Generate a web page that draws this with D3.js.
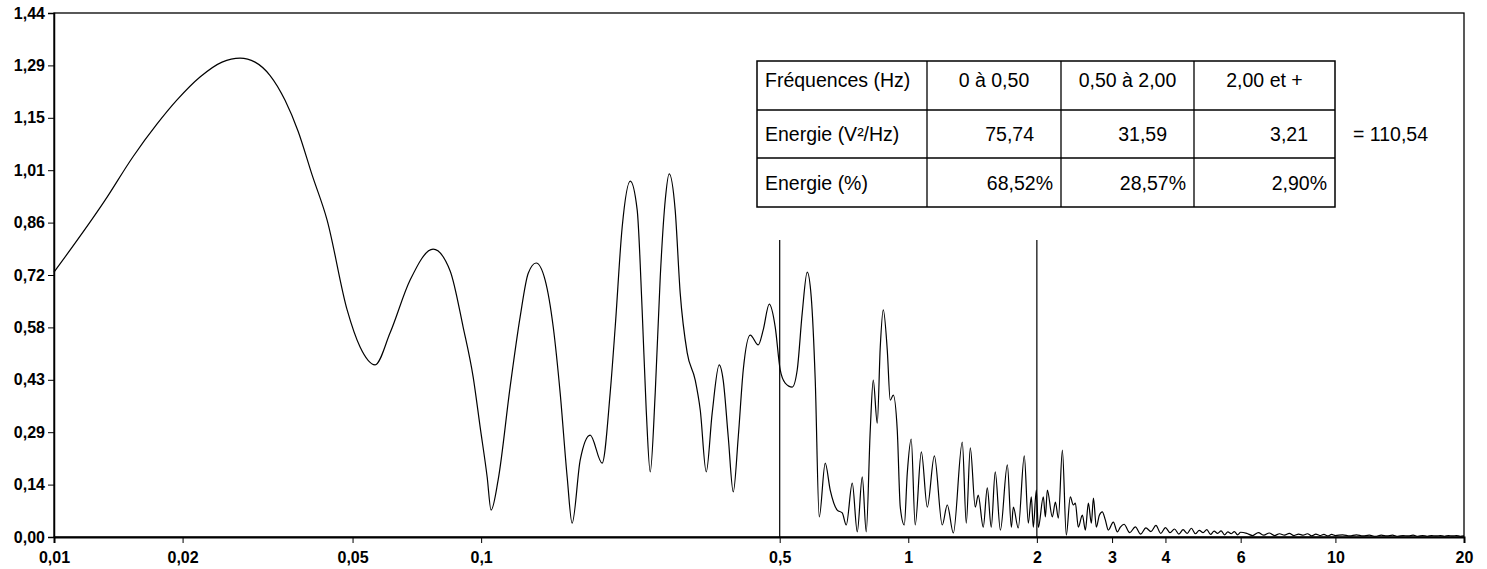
<!DOCTYPE html>
<html>
<head>
<meta charset="utf-8">
<script src="https://cdn.jsdelivr.net/npm/d3@7"></script>
<style>
  html, body { margin: 0; padding: 0; background: #fff; }
  svg { display: block; }
  text { font-family: "Liberation Sans", Arial, sans-serif; fill: #000; }
</style>
</head>
<body>
<svg id="chart" width="1487" height="569"></svg>
<script>
// ---------- data ----------
const freqHz = [
  0.0100, 0.01316, 0.01531, 0.01743, 0.01941, 0.02197, 0.02474, 0.02727, 0.02956, 0.03206,
  0.03475, 0.03728, 0.0402, 0.04359, 0.04856, 0.05207, 0.05646, 0.06122, 0.06819, 0.0772,
  0.08462, 0.09075, 0.09578, 0.09947, 0.1033, 0.1055, 0.1096, 0.1169, 0.1234, 0.1289,
  0.1345, 0.1412, 0.1475, 0.1531, 0.159, 0.1633, 0.1706, 0.180, 0.192, 0.2005,
  0.206, 0.2139, 0.2234, 0.2319, 0.2382, 0.2435, 0.2488, 0.2556, 0.2626, 0.2698,
  0.2756, 0.2846, 0.2924, 0.3037, 0.3171, 0.3258, 0.3365, 0.3475, 0.3609, 0.3687,
  0.3789, 0.3893, 0.3999, 0.4108, 0.4266, 0.4454, 0.4575, 0.4726, 0.4881, 0.5014,
  0.5151, 0.5349, 0.5495, 0.5646, 0.580, 0.5926, 0.6056, 0.6188, 0.6391, 0.6565,
  0.6818, 0.7005, 0.7158, 0.7394, 0.7596, 0.7803, 0.7972, 0.8147, 0.8279, 0.846,
  0.8598, 0.8739, 0.8929, 0.9074, 0.9223, 0.9423, 0.9578, 0.9787, 0.9947, 1.016,
  1.038, 1.073, 1.108, 1.151, 1.201, 1.234, 1.275, 1.338, 1.367, 1.397,
  1.435, 1.458, 1.498, 1.531, 1.564, 1.598, 1.643, 1.706, 1.743, 1.762,
  1.809, 1.869, 1.910, 1.941, 1.962, 1.994, 2.016, 2.071, 2.094, 2.116,
  2.174, 2.210, 2.246, 2.295, 2.344, 2.395, 2.434, 2.461, 2.501, 2.556,
  2.598, 2.640, 2.683, 2.713, 2.756, 2.801, 2.846, 2.893, 2.940, 3.020,
  3.087, 3.137,
  3.2, 3.3, 3.4, 3.5, 3.6, 3.7, 3.8, 3.9, 4.0, 4.1, 4.2, 4.3, 4.4, 4.5, 4.6, 4.7, 4.8, 4.9,
  5.0, 5.1, 5.2, 5.3, 5.4, 5.5, 5.6, 5.7, 5.8, 5.9, 6.0,
  6.2, 6.4, 6.6, 6.8, 7.0, 7.2, 7.4, 7.6, 7.8, 8.0, 8.2, 8.4, 8.6, 8.8, 9.0, 9.2, 9.4, 9.6, 9.8, 10.0,
  10.4, 10.8, 11.2, 11.6, 12.0, 12.4, 12.8, 13.2, 13.6, 14.0, 14.4, 14.8, 15.2, 15.6, 16.0,
  16.4, 16.8, 17.2, 17.6, 18.0, 18.4, 18.8, 19.2, 19.6, 20.0
];
const energyDensity = [
  0.728, 0.925, 1.045, 1.135, 1.201, 1.264, 1.305, 1.316, 1.305, 1.268,
  1.200, 1.115, 0.995, 0.871, 0.624, 0.522, 0.473, 0.561, 0.706, 0.791,
  0.731, 0.577, 0.440, 0.302, 0.165, 0.074, 0.157, 0.412, 0.605, 0.725,
  0.753, 0.706, 0.577, 0.396, 0.165, 0.038, 0.212, 0.280, 0.203, 0.396,
  0.577, 0.852, 0.978, 0.899, 0.624, 0.349, 0.179, 0.396, 0.714, 0.926,
  0.998, 0.899, 0.671, 0.506, 0.431, 0.349, 0.179, 0.341, 0.473, 0.431,
  0.275, 0.124, 0.275, 0.459, 0.555, 0.528, 0.569, 0.640, 0.577, 0.459,
  0.423, 0.412, 0.459, 0.616, 0.728, 0.660, 0.431, 0.055, 0.203, 0.129,
  0.074, 0.066, 0.033, 0.148, 0.014, 0.165, 0.014, 0.294, 0.431, 0.313,
  0.522, 0.624, 0.514, 0.376, 0.390, 0.294, 0.082, 0.033, 0.176, 0.269,
  0.033, 0.234, 0.082, 0.223, 0.033, 0.088, 0.011, 0.261, 0.038, 0.245,
  0.082, 0.115, 0.027, 0.135, 0.027, 0.179, 0.019, 0.198, 0.027, 0.082,
  0.025, 0.223, 0.038, 0.110, 0.027, 0.129, 0.027, 0.110, 0.055, 0.129,
  0.055, 0.096, 0.052, 0.239, 0.005, 0.110, 0.088, 0.093, 0.027, 0.060,
  0.019, 0.093, 0.038, 0.107, 0.027, 0.060, 0.069, 0.047, 0.019, 0.041,
  0.014, 0.027,
  0.035, 0.012, 0.028, 0.008, 0.025, 0.015, 0.032, 0.010, 0.026, 0.012, 0.022, 0.008, 0.020, 0.010, 0.024, 0.009, 0.018, 0.012,
  0.020, 0.007, 0.016, 0.010, 0.017, 0.006, 0.014, 0.009, 0.015, 0.006, 0.013,
  0.010, 0.004, 0.012, 0.005, 0.011, 0.004, 0.009, 0.005, 0.010, 0.004, 0.008, 0.005, 0.009, 0.003, 0.008, 0.004, 0.007, 0.003, 0.007, 0.004,
  0.006, 0.003, 0.006, 0.003, 0.005, 0.002, 0.005, 0.003, 0.005, 0.002, 0.004, 0.003, 0.005, 0.002, 0.004,
  0.002, 0.004, 0.003, 0.004, 0.002, 0.004, 0.003, 0.004, 0.002, 0.003
];
const bandLimitsHz = [0.5, 2];
const bandLineTop = 0.816;

const xTickValues = [0.01, 0.02, 0.05, 0.1, 0.5, 1, 2, 3, 4, 6, 10, 20];
const xTickLabels = ["0,01", "0,02", "0,05", "0,1", "0,5", "1", "2", "3", "4", "6", "10", "20"];
const yTickValues = [0, 0.144, 0.288, 0.432, 0.576, 0.72, 0.864, 1.008, 1.152, 1.296, 1.44];
const yTickLabels = ["0,00", "0,14", "0,29", "0,43", "0,58", "0,72", "0,86", "1,01", "1,15", "1,29", "1,44"];

const tableHeader = ["Fréquences (Hz)", "0 à 0,50", "0,50 à 2,00", "2,00 et +"];
const tableEnergy = ["Energie (V²/Hz)", "75,74", "31,59", "3,21"];
const tablePercent = ["Energie (%)", "68,52%", "28,57%", "2,90%"];
const totalEnergy = "= 110,54";

// ---------- layout ----------
const svg = d3.select("#chart");
const L = 54, R = 1464, T = 13, B = 537;

const x = d3.scaleLog().domain([0.01, 20]).range([L, R]);
const y = d3.scaleLinear().domain([0, 1.44]).range([B, T]);

// frame (top + right)
svg.append("rect")
  .attr("x", L).attr("y", T).attr("width", R - L).attr("height", B - T)
  .attr("fill", "none").attr("stroke", "#000").attr("stroke-width", 1.3);

// y axis
const yAxis = svg.append("g").attr("transform", `translate(${L},0)`)
  .call(d3.axisLeft(y).tickValues(yTickValues)
    .tickFormat((d, i) => yTickLabels[i]).tickSize(6).tickPadding(3));
yAxis.selectAll("text").style("font-size", "16px").style("font-weight", "bold");
yAxis.select(".domain").attr("stroke-width", 1.5);

// x axis
const xAxis = svg.append("g").attr("transform", `translate(0,${B})`)
  .call(d3.axisBottom(x).tickValues(xTickValues)
    .tickFormat((d, i) => xTickLabels[i]).tickSize(6).tickPadding(9));
xAxis.selectAll("text").style("font-size", "16px").style("font-weight", "bold");
xAxis.select(".domain").attr("stroke-width", 2);

// band limit lines
svg.append("g").selectAll("line").data(bandLimitsHz).join("line")
  .attr("x1", d => x(d)).attr("x2", d => x(d))
  .attr("y1", y(bandLineTop)).attr("y2", y(0))
  .attr("stroke", "#000").attr("stroke-width", 1.2);

// spectrum curve
const pts = freqHz.map((f, i) => [f, energyDensity[i]]);
const line = d3.line().x(d => x(d[0])).y(d => y(d[1])).curve(d3.curveMonotoneX);
svg.append("path").datum(pts)
  .attr("d", line).attr("fill", "none").attr("stroke", "#000").attr("stroke-width", 1.2);

// ---------- table ----------
const colX = [757, 927, 1061, 1194, 1335];
const rowY = [61, 110, 158, 207];
const tbl = svg.append("g");
tbl.append("rect").attr("x", colX[0]).attr("y", rowY[0])
  .attr("width", colX[4] - colX[0]).attr("height", rowY[3] - rowY[0])
  .attr("fill", "#fff").attr("stroke", "#000").attr("stroke-width", 1.5);
colX.slice(1, 4).forEach(cx => tbl.append("line")
  .attr("x1", cx).attr("x2", cx).attr("y1", rowY[0]).attr("y2", rowY[3])
  .attr("stroke", "#000").attr("stroke-width", 1.3));
rowY.slice(1, 3).forEach(ry => tbl.append("line")
  .attr("x1", colX[0]).attr("x2", colX[4]).attr("y1", ry).attr("y2", ry)
  .attr("stroke", "#000").attr("stroke-width", 1.3));

const fs = "19.5px";
const baselines = [87, 141, 190];
const rows = [tableHeader, tableEnergy, tablePercent];
rows.forEach((row, r) => {
  row.forEach((txt, c) => {
    const t = tbl.append("text").text(txt).style("font-size", fs)
      .attr("y", baselines[r]);
    if (c === 0) {
      t.attr("x", colX[0] + 8).attr("text-anchor", "start");
    } else if (r === 0) {
      t.attr("x", (colX[c] + colX[c + 1]) / 2).attr("text-anchor", "middle");
    } else if (r === 1) {
      t.attr("x", colX[c + 1] - 27).attr("text-anchor", "end");
    } else {
      t.attr("x", colX[c + 1] - 8).attr("text-anchor", "end");
    }
  });
});
svg.append("text").text(totalEnergy).style("font-size", fs)
  .attr("x", 1353).attr("y", baselines[1]).attr("text-anchor", "start");
</script>
</body>
</html>
